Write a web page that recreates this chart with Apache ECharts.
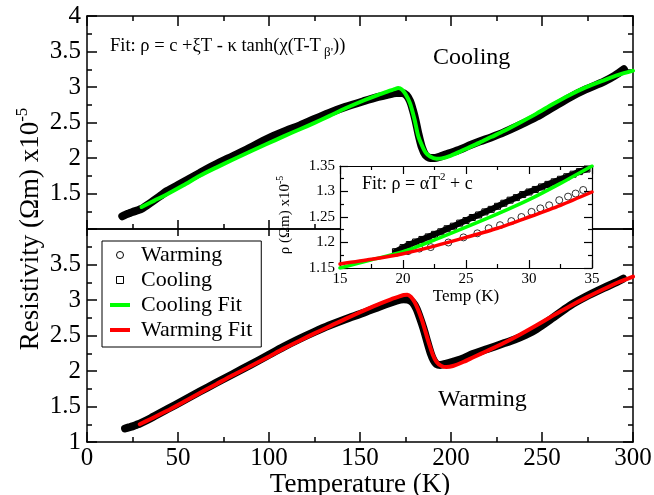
<!DOCTYPE html>
<html>
<head>
<meta charset="utf-8">
<script src="https://cdn.jsdelivr.net/npm/echarts@6/dist/echarts.min.js"></script>
<style>
html, body { margin: 0; padding: 0; background: #fff; }
#chart { width: 654px; height: 495px; }
</style>
</head>
<body>
<div id="chart"></div>
<script>
// main panels, temperature in K, resistivity in 1e-5 Ohm m
const coolT = [19.4, 21, 23, 25, 28, 30, 35, 40, 44, 50, 56, 62, 70, 80, 90, 99, 108, 117, 125, 133, 142, 152, 160, 165, 170, 173, 175.5, 177.5, 179, 180.5, 182, 184, 186, 188.5, 191, 194, 199, 205, 210, 216, 222, 229, 238, 247, 256, 265, 274, 284, 290, 295]
const coolR = [1.18, 1.20, 1.22, 1.24, 1.265, 1.285, 1.37, 1.46, 1.535, 1.62, 1.705, 1.79, 1.90, 2.025, 2.15, 2.27, 2.37, 2.46, 2.55, 2.635, 2.72, 2.80, 2.86, 2.89, 2.915, 2.915, 2.885, 2.80, 2.68, 2.53, 2.35, 2.15, 2.04, 2.00, 2.00, 2.02, 2.065, 2.12, 2.175, 2.235, 2.29, 2.36, 2.465, 2.58, 2.715, 2.85, 2.965, 3.075, 3.16, 3.25]

const coolFitT = [30, 37, 44, 53, 62, 71, 80, 90, 99, 108, 117, 125, 133, 142, 152, 160, 165, 169, 171, 173, 175, 177.5, 180, 182, 184, 186, 188.5, 192, 195, 200, 205, 210, 216, 222, 229, 238, 247, 256, 265, 274, 284, 292, 300]
const coolFitR = [1.31, 1.40, 1.49, 1.615, 1.75, 1.865, 1.975, 2.095, 2.20, 2.305, 2.405, 2.495, 2.59, 2.70, 2.81, 2.89, 2.935, 2.97, 2.985, 2.965, 2.90, 2.77, 2.54, 2.31, 2.18, 2.08, 2.02, 1.99, 1.995, 2.035, 2.09, 2.15, 2.22, 2.295, 2.38, 2.50, 2.625, 2.76, 2.885, 2.995, 3.095, 3.17, 3.23]

const warmT = [20.9, 23, 25, 27, 29, 35, 44, 53, 62, 71, 80, 90, 99, 108, 117, 125, 133, 142, 152, 161, 170, 174, 176.5, 179, 181, 183, 185, 187, 189, 190.5, 192, 194, 197, 201, 207, 212, 220, 229, 235, 241, 247, 256, 265, 274, 284, 290, 294.6]
const warmR = [1.19, 1.205, 1.22, 1.24, 1.26, 1.335, 1.46, 1.585, 1.71, 1.835, 1.955, 2.09, 2.215, 2.34, 2.455, 2.55, 2.64, 2.73, 2.82, 2.91, 2.99, 3.01, 3.005, 2.965, 2.88, 2.745, 2.59, 2.41, 2.24, 2.15, 2.10, 2.085, 2.10, 2.13, 2.18, 2.24, 2.31, 2.39, 2.445, 2.51, 2.59, 2.75, 2.915, 3.045, 3.17, 3.24, 3.30]

const warmFitT = [29, 35, 44, 53, 62, 71, 80, 90, 99, 108, 117, 125, 133, 142, 152, 161, 167, 171, 174, 176, 178, 180, 182, 184, 186, 188, 190, 192, 194.5, 197.5, 201, 207, 212, 220, 229, 238, 247, 256, 265, 274, 284, 292, 300]
const warmFitR = [1.25, 1.325, 1.44, 1.565, 1.69, 1.815, 1.94, 2.07, 2.19, 2.315, 2.43, 2.53, 2.625, 2.735, 2.85, 2.95, 3.01, 3.045, 3.07, 3.075, 3.045, 2.97, 2.86, 2.72, 2.55, 2.38, 2.23, 2.13, 2.075, 2.055, 2.07, 2.13, 2.19, 2.285, 2.395, 2.515, 2.645, 2.78, 2.91, 3.03, 3.155, 3.25, 3.33]

// inset, low temperature part
const inCoolT = [19.4, 20, 20.5, 21, 21.5, 22, 22.5, 23, 23.5, 24, 24.5, 25, 25.5, 26, 26.5, 27, 27.5, 28, 28.5, 29, 29.5, 30, 30.5, 31, 31.5, 32, 32.5, 33, 33.5, 34, 34.6]
const inCoolR = [1.182, 1.19, 1.196, 1.201, 1.206, 1.211, 1.216, 1.221, 1.227, 1.232, 1.238, 1.243, 1.249, 1.254, 1.26, 1.265, 1.271, 1.277, 1.283, 1.288, 1.294, 1.299, 1.304, 1.309, 1.314, 1.319, 1.324, 1.329, 1.334, 1.339, 1.344]

const inWarmT = [19.5, 20.4, 21.3, 22.2, 23.6, 24.8, 25.9, 26.8, 27.7, 28.6, 29.4, 30.2, 30.9, 31.6, 32.4, 33.1, 33.7, 34.3]
const inWarmR = [1.18, 1.183, 1.188, 1.191, 1.2, 1.21, 1.218, 1.228, 1.234, 1.242, 1.25, 1.26, 1.267, 1.273, 1.283, 1.29, 1.296, 1.303]

const inFitT = [15, 17.5, 20, 22.5, 25, 27.5, 30, 32.5, 35]
const inCoolFitR = [1.15, 1.166, 1.182, 1.205, 1.23, 1.256, 1.284, 1.316, 1.35]
const inWarmFitR = [1.158, 1.167, 1.178, 1.193, 1.21, 1.228, 1.25, 1.273, 1.299]

const FONT = 'Liberation Serif'
const zip = (xs, ys) => xs.map((x, i) => [x, ys[i]])

function axis (gridIndex, position, min, max, interval, extra) {
  const lw = { color: '#000', width: 1.5 }
  return Object.assign({
    type: 'value',
    gridIndex,
    position,
    min,
    max,
    interval,
    axisLine: { onZero: false, lineStyle: lw },
    axisTick: { inside: true, length: 10, lineStyle: lw },
    minorTick: { show: true, splitNumber: 2, length: 5, lineStyle: lw },
    axisLabel: { show: false },
    splitLine: { show: false },
    minorSplitLine: { show: false }
  }, extra || {})
}

const bigLabel = { show: true, fontFamily: FONT, fontSize: 25, color: '#000' }
const smallLabel = { show: true, fontFamily: FONT, fontSize: 15, color: '#000' }
const insetTick = { inside: true, length: 8, lineStyle: { color: '#000', width: 1.2 } }
const insetMinor = { show: true, splitNumber: 2, length: 4, lineStyle: { color: '#000', width: 1.2 } }
const insetLine = { onZero: false, lineStyle: { color: '#000', width: 1.2 } }

function line (name, xi, data, color, width, z) {
  return {
    name,
    type: 'line',
    xAxisIndex: xi,
    yAxisIndex: xi,
    data,
    symbol: 'none',
    smooth: 0.25,
    lineStyle: { color, width, join: 'round', cap: 'round' },
    itemStyle: { color },
    z,
    silent: true
  }
}

const chart = echarts.init(document.getElementById('chart'))

const option = {
  animation: false,
  backgroundColor: '#fff',
  textStyle: { fontFamily: FONT, color: '#000' },
  grid: [
    { left: 87, top: 16, width: 546, height: 213, containLabel: false, outerBoundsMode: 'none' },
    { left: 87, top: 229, width: 546, height: 213, containLabel: false, outerBoundsMode: 'none' },
    { left: 340, top: 166, width: 252, height: 102, containLabel: false, outerBoundsMode: 'none',
      show: true, backgroundColor: '#fff', borderWidth: 0, z: 10 }
  ],
  xAxis: [
    axis(0, 'bottom', 0, 300, 50, { axisTick: { inside: true, length: 9, lineStyle: { color: '#000', width: 1.5 } } }),
    axis(0, 'top', 0, 300, 50),
    axis(1, 'bottom', 0, 300, 50, {
      axisLabel: Object.assign({ margin: 4 }, bigLabel),
      name: 'Temperature (K)',
      nameLocation: 'middle',
      nameGap: 26,
      nameTextStyle: { fontFamily: FONT, fontSize: 27, color: '#000' }
    }),
    axis(1, 'top', 0, 300, 50, {
      axisTick: { inside: true, length: 7, lineStyle: { color: '#000', width: 1.5 } },
      minorTick: { show: false }
    }),
    axis(2, 'bottom', 15, 35, 5, {
      z: 12,
      axisLine: insetLine,
      axisTick: insetTick,
      minorTick: insetMinor,
      axisLabel: Object.assign({ margin: 4 }, smallLabel),
      name: 'Temp (K)',
      nameLocation: 'middle',
      nameGap: 18,
      nameTextStyle: { fontFamily: FONT, fontSize: 17, color: '#000' }
    }),
    axis(2, 'top', 15, 35, 5, { z: 12, axisLine: insetLine, axisTick: insetTick, minorTick: insetMinor })
  ],
  yAxis: [
    axis(0, 'left', 1, 4, 0.5, {
      axisLabel: Object.assign({ margin: 6, formatter: v => (v === 1 ? '' : String(v)) }, bigLabel)
    }),
    axis(0, 'right', 1, 4, 0.5),
    axis(1, 'left', 1, 4, 0.5, {
      axisLabel: Object.assign({ margin: 6, formatter: v => (v === 4 ? '' : String(v)) }, bigLabel)
    }),
    axis(1, 'right', 1, 4, 0.5),
    axis(2, 'left', 1.15, 1.35, 0.05, {
      z: 12,
      axisLine: insetLine,
      axisTick: insetTick,
      minorTick: insetMinor,
      axisLabel: Object.assign({ margin: 5, formatter: v => String(+v.toFixed(2)) }, smallLabel)
    }),
    axis(2, 'right', 1.15, 1.35, 0.05, { z: 12, axisLine: insetLine, axisTick: insetTick, minorTick: insetMinor })
  ],
  legend: {
    left: 102,
    top: 241,
    orient: 'vertical',
    backgroundColor: '#fff',
    borderColor: '#000',
    borderWidth: 1,
    borderRadius: 0,
    padding: [3, 9, 6, 8],
    itemGap: 3,
    itemWidth: 20,
    itemHeight: 7,
    selectedMode: false,
    textStyle: { fontFamily: FONT, fontSize: 22, color: '#000', padding: [0, 0, 0, 6] },
    data: [
      { name: 'Warming', icon: 'circle', itemStyle: { color: '#fff', borderColor: '#000', borderWidth: 1 } },
      { name: 'Cooling', icon: 'path://M0,0H10V10H0Z', itemStyle: { color: '#fff', borderColor: '#000', borderWidth: 1 } },
      { name: 'Cooling Fit', icon: 'path://M0,0H20V4H0Z', itemStyle: { color: '#00ff00', borderWidth: 0 } },
      { name: 'Warming Fit', icon: 'path://M0,0H20V4H0Z', itemStyle: { color: '#ff0000', borderWidth: 0 } }
    ]
  },
  graphic: [
    {
      type: 'text', x: 31, y: 229, rotation: Math.PI / 2, z: 20,
      style: {
        text: '{a|Resistivity (Ωm) x10}{s|-5}',
        align: 'center', verticalAlign: 'middle',
        rich: {
          a: { fontFamily: FONT, fontSize: 27, lineHeight: 34, fill: '#000' },
          s: { fontFamily: FONT, fontSize: 17, verticalAlign: 'top', fill: '#000' }
        }
      }
    },
    {
      type: 'text', x: 285, y: 215, rotation: Math.PI / 2, z: 20,
      style: {
        text: '{a|ρ (Ωm) x10}{s|-5}',
        align: 'center', verticalAlign: 'middle',
        rich: {
          a: { fontFamily: FONT, fontSize: 15, lineHeight: 19, fill: '#000' },
          s: { fontFamily: FONT, fontSize: 10, verticalAlign: 'top', fill: '#000' }
        }
      }
    },
    {
      type: 'text', x: 110, y: 46, z: 20,
      style: {
        text: '{a|Fit: ρ = c +ξT - κ tanh(χ(T-T}{b| β\'}{a|))}',
        align: 'left', verticalAlign: 'middle',
        rich: {
          a: { fontFamily: FONT, fontSize: 18.5, lineHeight: 26, fill: '#000' },
          b: { fontFamily: FONT, fontSize: 13, verticalAlign: 'bottom', fill: '#000' }
        }
      }
    },
    {
      type: 'text', x: 362, y: 184, z: 20,
      style: {
        text: '{a|Fit: ρ = αT}{p|2}{a| + c}',
        align: 'left', verticalAlign: 'middle',
        rich: {
          a: { fontFamily: FONT, fontSize: 18, lineHeight: 24, fill: '#000' },
          p: { fontFamily: FONT, fontSize: 11, verticalAlign: 'top', fill: '#000' }
        }
      }
    },
    {
      type: 'text', x: 433, y: 58, z: 20,
      style: { text: 'Cooling', fontFamily: FONT, fontSize: 24, fill: '#000', align: 'left', verticalAlign: 'middle' }
    },
    {
      type: 'text', x: 438, y: 400, z: 20,
      style: { text: 'Warming', fontFamily: FONT, fontSize: 24, fill: '#000', align: 'left', verticalAlign: 'middle' }
    }
  ],
  series: [
    line('Cooling', 0, zip(coolT, coolR), '#000', 8, 2),
    line('Cooling Fit', 0, zip(coolFitT, coolFitR), '#00ff00', 4, 3),
    line('Warming', 2, zip(warmT, warmR), '#000', 8, 2),
    line('Warming Fit', 2, zip(warmFitT, warmFitR), '#ff0000', 4, 3),
    Object.assign(line('Cooling', 4, zip(inCoolT, inCoolR), '#000', 6, 11), {
      smooth: false,
      symbol: 'rect',
      symbolSize: 6,
      showAllSymbol: true,
      itemStyle: { color: 'transparent', borderColor: '#000', borderWidth: 1 }
    }),
    {
      name: 'Warming',
      type: 'scatter',
      xAxisIndex: 4,
      yAxisIndex: 4,
      data: zip(inWarmT, inWarmR),
      symbol: 'circle',
      symbolSize: 7,
      itemStyle: { color: 'transparent', borderColor: '#000', borderWidth: 1 },
      z: 11,
      silent: true
    },
    line('Cooling Fit', 4, zip(inFitT, inCoolFitR), '#00ff00', 3.5, 13),
    line('Warming Fit', 4, zip(inFitT, inWarmFitR), '#ff0000', 3.5, 13)
  ]
}

chart.setOption(option)
</script>
</body>
</html>
